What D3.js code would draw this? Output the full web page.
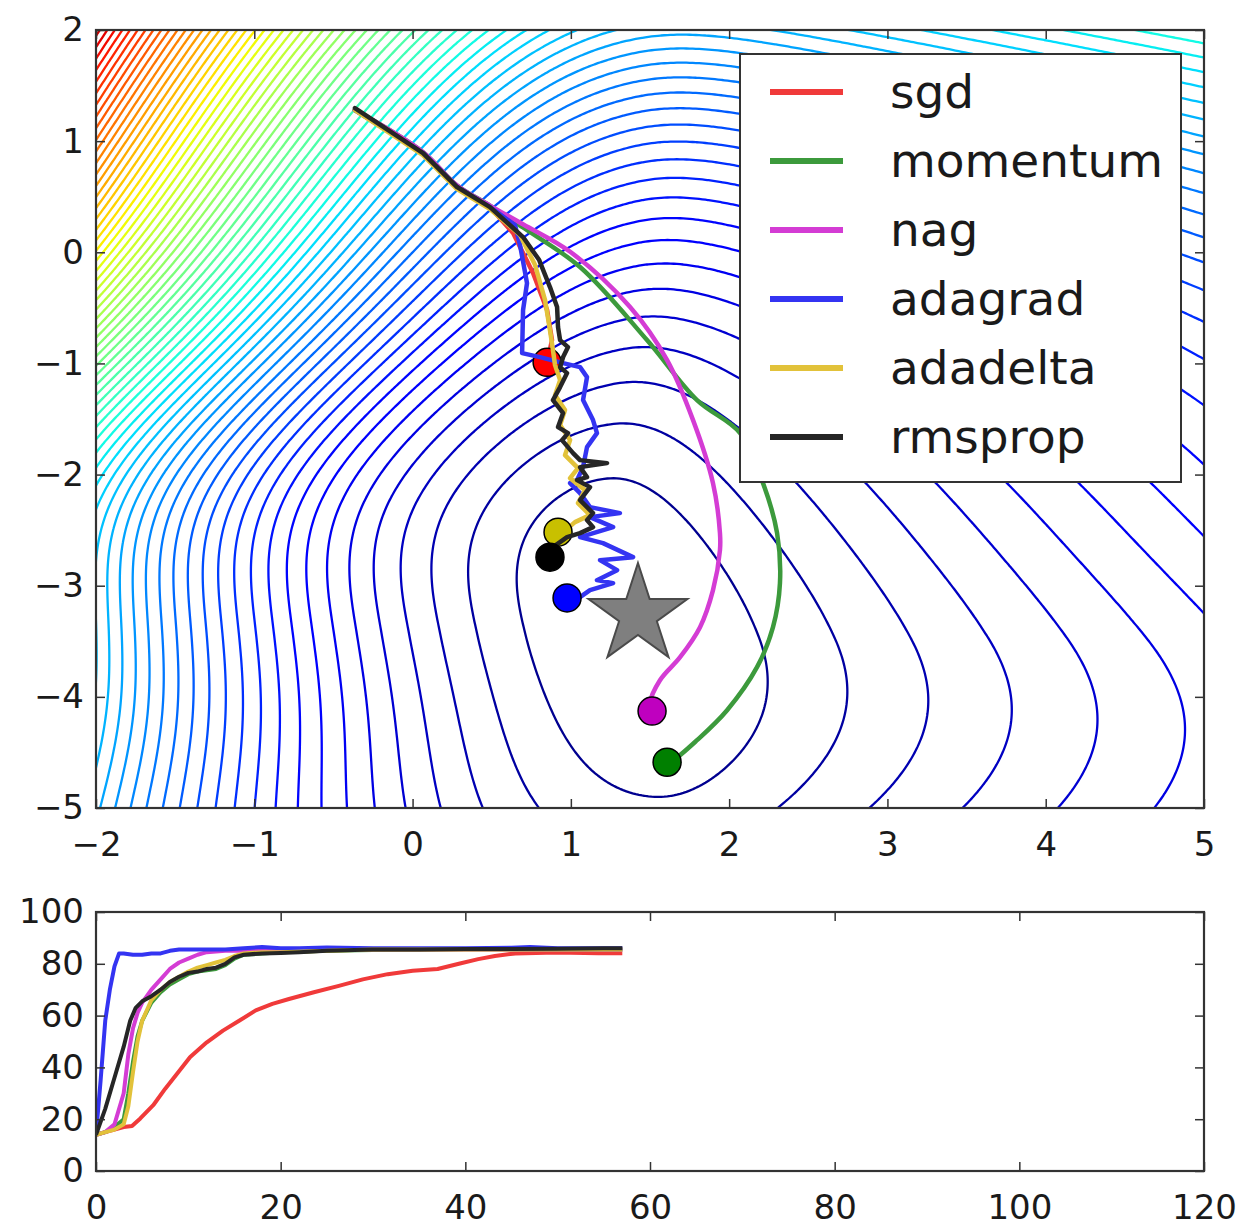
<!DOCTYPE html>
<html><head><meta charset="utf-8">
<script src="https://cdn.jsdelivr.net/npm/d3@7"></script>
<style>
body{margin:0;background:#fff}
svg{display:block}
text{font-family:"DejaVu Sans",sans-serif;fill:#1a1a1a}
</style>
</head><body>
<svg id="chart" width="1239" height="1230"></svg>
<script>
// ---------------- DATA ----------------
const methods = ["sgd","momentum","nag","adagrad","adadelta","rmsprop"];
const lineColors = ["#f03a3a","#3c9a3c","#d43cd4","#3434f2","#e2c23a","#262626"];
const dotColors  = ["#ff0000","#007f00","#bf00bf","#0000ff","#c8c000","#000000"];

// optimisation paths (parameter space)
const sgdPath = [[-0.364,1.28],[0.066,0.893],[0.281,0.587],[0.489,0.407],[0.635,0.173],[0.761,-0.187],[0.85,-0.52],[0.881,-0.79],[0.85,-0.99]];
const momentumPath = [[-0.364,1.28],[0.066,0.90],[0.281,0.60],[0.489,0.42],[0.69,0.23],[1.058,-0.133],[1.481,-0.79],[1.797,-1.33],[2.069,-1.626],[2.214,-2.077],[2.303,-2.527],[2.321,-2.977],[2.277,-3.373],[2.176,-3.733],[1.987,-4.12],[1.797,-4.39],[1.646,-4.57],[1.608,-4.588]];
const nagPath = [[-0.364,1.28],[0.066,0.90],[0.281,0.60],[0.489,0.42],[0.70,0.25],[1.0,0.0],[1.374,-0.493],[1.608,-0.97],[1.772,-1.51],[1.898,-2.077],[1.942,-2.527],[1.942,-2.68],[1.898,-3.04],[1.816,-3.373],[1.69,-3.643],[1.563,-3.85],[1.5,-4.057],[1.513,-4.128]];
const adagradPath = [[-0.364,1.28],[0.066,0.893],[0.281,0.587],[0.489,0.407],[0.647,0.245],[0.679,0.065],[0.723,-0.277],[0.698,-0.52],[0.692,-0.907],[0.805,-0.943],[0.951,-0.997],[1.058,-1.033],[1.102,-1.123],[1.077,-1.33],[1.14,-1.51],[1.165,-1.627],[1.102,-1.753],[1.077,-1.933],[1.039,-2.05],[0.995,-2.077],[1.058,-2.167],[1.121,-2.293],[1.31,-2.347],[1.121,-2.383],[1.267,-2.473],[1.058,-2.563],[1.203,-2.617],[1.393,-2.743],[1.184,-2.77],[1.292,-2.86],[1.165,-2.95],[1.267,-2.977],[1.121,-3.04],[1.058,-3.103],[0.976,-3.11]];
const adadeltaPath = [[-0.364,1.28],[0.066,0.875],[0.281,0.569],[0.489,0.389],[0.679,0.155],[0.774,-0.115],[0.837,-0.43],[0.868,-0.7],[0.887,-0.88],[0.9,-1.015],[0.932,-1.15],[0.9,-1.285],[0.963,-1.42],[0.932,-1.555],[0.995,-1.69],[0.963,-1.825],[1.045,-1.942],[0.995,-2.032],[1.09,-2.14],[1.045,-2.257],[1.121,-2.365],[1.026,-2.428],[0.982,-2.482],[0.919,-2.518]];
const rmspropPath = [[-0.364,1.298],[0.066,0.893],[0.281,0.587],[0.489,0.407],[0.698,0.137],[0.80,-0.07],[0.868,-0.313],[0.913,-0.493],[0.919,-0.673],[0.932,-0.79],[0.982,-0.853],[0.951,-0.943],[0.932,-1.033],[0.976,-1.087],[0.932,-1.213],[0.887,-1.33],[0.951,-1.447],[0.919,-1.573],[0.982,-1.627],[0.944,-1.69],[1.014,-1.807],[1.058,-1.87],[1.229,-1.897],[1.058,-1.933],[1.102,-2.023],[1.039,-2.05],[1.121,-2.113],[1.058,-2.23],[1.14,-2.347],[1.102,-2.41],[1.14,-2.473],[1.058,-2.527],[0.976,-2.563],[0.887,-2.653],[0.868,-2.743]];
const paths = [sgdPath, momentumPath, nagPath, adagradPath, adadeltaPath, rmspropPath];
const smoothPath = [false, true, true, false, false, false];

const optimum = [1.424, -3.264];

// loss surface parameters
const surfaceCenter = [1.45, -3.45];
const scaleLeft = 0.735, scaleRight = 0.62, scaleUp = 1.5, powerUp = 2.3, scaleDown = 1.45;
const rightFlatten = 1.34;
const tiltLin = 0.116;
const rampGain = 8.5, rampKnee3 = 27, rampStart = -0.5, rampSoft = 0.5;
const shearLin = 0.216, shearQuad = 0.052, shearWidth = 1.8;
const contourLevels = d3.range(1, 71);
const colorMaxLevel = 70;

// accuracy curves [iteration, accuracy]
const sgdAcc = [[0,14],[1,15],[2,16],[3,17],[3.9,17.4],[4.8,20.3],[6.2,25.4],[7.5,31.8],[8.8,37.6],[10.2,44],[12,49.7],[13.75,54.2],[15.5,58],[17.3,62],[19.1,64.5],[20.9,66.4],[23.6,69],[26.3,71.5],[28.9,74],[31.6,76],[34.3,77.3],[37,78],[39.3,80],[41.4,81.8],[43.2,83],[45.4,84],[49.9,84.4],[54.4,84.1],[57,84.1]];
const momentumAcc = [[0,14],[1,15],[2,17],[3,20],[3.5,30],[4,42],[4.5,52],[5,58],[6,65],[7,69],[8,72],[9,74],[10,76],[11,77],[12,77.5],[13,78],[14,79.5],[15,82],[16,83.5],[18,84],[20,84.5],[25,85],[30,85.3],[40,85.5],[50,85.5],[57,85.5]];
const nagAcc = [[0,14],[1,15],[2,18],[3,30],[3.5,45],[4,55],[4.5,61],[5,65],[6,70],[7,74],[8,78],[9,80.5],[10,82],[11,83.5],[12,84.5],[14,85],[16,85],[20,85.2],[25,85.5],[30,85.5],[40,85.5],[50,85.5],[57,85.5]];
const adagradAcc = [[0,14],[0.5,35],[1,58],[1.5,70],[2,79],[2.5,84],[3,84],[4,83.5],[5,83.5],[6,84],[7,84],[8,85],[9,85.5],[10,85.5],[12,85.5],[14,85.5],[16,86],[18,86.5],[20,86],[22,86],[25,86.3],[30,86],[35,86],[40,86],[45,86.2],[47,86.5],[50,86],[55,86],[57,86]];
const adadeltaAcc = [[0,14],[1,15],[2,16],[3,18],[3.5,25],[4,38],[4.5,50],[5,58],[6,66],[7,70],[8,73],[9,75],[10,77],[11,78.5],[12,79.5],[13,80.5],[14,81.5],[15,83],[16,84],[18,84.5],[20,84.5],[25,85],[30,85.5],[40,85.5],[50,85.5],[57,85.5]];
const rmspropAcc = [[0,14],[1,24],[2,36],[3,48],[3.7,58],[4.3,63],[5,65.5],[6,67.5],[7,70],[8,73],[9,75],[10,76.5],[11,77],[12,78],[13,78.5],[14,80],[15,82.5],[16,83.5],[18,84],[20,84.2],[22,84.5],[25,85],[28,85.3],[30,85.5],[35,85.5],[40,85.7],[45,85.7],[50,85.8],[55,86],[57,86]];
const accCurves = [sgdAcc, momentumAcc, nagAcc, adagradAcc, adadeltaAcc, rmspropAcc];

const topXTicks = [-2,-1,0,1,2,3,4,5];
const topYTicks = [-5,-4,-3,-2,-1,0,1,2];
const botXTicks = [0,20,40,60,80,100,120];
const botYTicks = [0,20,40,60,80,100];

// ---------------- DRAW ----------------
const svg = d3.select("#chart");
const fmt = d3.format("d");

const topBox = {l:96, r:1204, t:30, b:808};
const botBox = {l:96, r:1204, t:912, b:1171};

const xT = d3.scaleLinear().domain([-2,5]).range([topBox.l, topBox.r]);
const yT = d3.scaleLinear().domain([-5,2]).range([topBox.b, topBox.t]);
const xB = d3.scaleLinear().domain([0,120]).range([botBox.l, botBox.r]);
const yB = d3.scaleLinear().domain([0,100]).range([botBox.b, botBox.t]);

// jet colormap
const jetR = d3.scaleLinear().domain([0,0.35,0.66,0.89,1]).range([0,0,1,1,0.5]).clamp(true);
const jetG = d3.scaleLinear().domain([0,0.125,0.375,0.64,0.91,1]).range([0,0,1,1,0,0]).clamp(true);
const jetB = d3.scaleLinear().domain([0,0.11,0.34,0.65,1]).range([0.5,1,1,0,0]).clamp(true);
const jet = t => d3.rgb(255*jetR(t), 255*jetG(t), 255*jetB(t)).toString();

function surface(x, y) {
  const Y = y - surfaceCenter[1];
  const X = x - surfaceCenter[0] + (shearLin*Y + shearQuad*Y*Y) * Math.exp(-(Y/shearWidth)*(Y/shearWidth));
  const xPart = X < 0 ? X*X/(scaleLeft*scaleLeft)
                      : X*X/Math.sqrt(1 + (rightFlatten*X)*(rightFlatten*X))/(scaleRight*scaleRight);
  const m = Y < 0 ? 1 + tiltLin*Y : 1 + tiltLin*Math.tanh(Y);
  const yPart = Y > 0 ? Math.pow(Y/scaleUp, powerUp) : (Y/scaleDown)*(Y/scaleDown);
  const yp = Math.max(Y, 0);
  const g = rampGain*yp*yp*yp/(rampKnee3 + yp*yp*yp);
  const z = -(X - rampStart)/rampSoft;
  const h = rampSoft*(z > 30 ? z : Math.log1p(Math.exp(z)));
  return xPart*m + yPart + g*h;
}

// grid
const gx0 = -2.25, gy0 = 2.25, step = 0.02;
const nx = Math.round(7.5/step)+1, ny = Math.round(7.5/step)+1;
const values = new Float64Array(nx*ny);
for (let j=0;j<ny;j++) for (let i=0;i<nx;i++) values[j*nx+i] = surface(gx0+i*step, gy0-j*step);

const contours = d3.contours().size([nx, ny]).thresholds(contourLevels)(values);
const proj = d3.geoTransform({point(u,v){ this.stream.point(xT(gx0+(u-0.5)*step), yT(gy0-(v-0.5)*step)); }});
const gpath = d3.geoPath(proj);

const defs = svg.append("defs");
defs.append("clipPath").attr("id","clipTop").append("rect")
  .attr("x",topBox.l).attr("y",topBox.t).attr("width",topBox.r-topBox.l).attr("height",topBox.b-topBox.t);
defs.append("clipPath").attr("id","clipBot").append("rect")
  .attr("x",botBox.l).attr("y",botBox.t).attr("width",botBox.r-botBox.l).attr("height",botBox.b-botBox.t);

const gTop = svg.append("g").attr("clip-path","url(#clipTop)");
gTop.selectAll("path.contour").data(contours).join("path")
  .attr("class","contour")
  .attr("d", gpath)
  .attr("fill","none")
  .attr("stroke", d => jet(d.value/colorMaxLevel))
  .attr("stroke-width", 2.3);

// paths + end dots
const line = d3.line().x(d=>xT(d[0])).y(d=>yT(d[1]));
const lineSmooth = d3.line().x(d=>xT(d[0])).y(d=>yT(d[1])).curve(d3.curveCatmullRom.alpha(0.5));
paths.forEach((p,k)=>{
  gTop.append("path").attr("d", (smoothPath[k]?lineSmooth:line)(p))
    .attr("fill","none").attr("stroke",lineColors[k]).attr("stroke-width",4.5)
    .attr("stroke-linejoin","round").attr("stroke-linecap","round");
  const e = p[p.length-1];
  gTop.append("circle").attr("cx",xT(e[0])).attr("cy",yT(e[1])).attr("r",14)
    .attr("fill",dotColors[k]).attr("stroke","#000").attr("stroke-width",1.5);
});

// star
const starPts = d3.range(10).map(i=>{
  const a = -Math.PI/2 + i*Math.PI/5;
  const r = i%2===0 ? 52 : 52*0.382;
  return [xT(optimum[0]) + r*Math.cos(a), yT(optimum[1]) + r*Math.sin(a)];
});
gTop.append("polygon").attr("points", starPts.map(p=>p.join(",")).join(" "))
  .attr("fill","#7f7f7f").attr("stroke","#4a4a4a").attr("stroke-width",2).attr("stroke-linejoin","miter");

// legend
const leg = svg.append("g");
leg.append("rect").attr("x",740).attr("y",54).attr("width",441).attr("height",428)
  .attr("fill","#fff").attr("stroke","#333").attr("stroke-width",2);
methods.forEach((m,k)=>{
  const yy = 92 + k*69;
  leg.append("line").attr("x1",770).attr("x2",843).attr("y1",yy).attr("y2",yy)
    .attr("stroke",lineColors[k]).attr("stroke-width",6);
  leg.append("text").attr("x",890).attr("y",yy+16).attr("font-size",47).text(m);
});

// axes helper
function axes(box, xs, ys, xt, yt) {
  const fs = 34;
  const gx = svg.append("g").attr("transform",`translate(0,${box.b})`)
    .call(d3.axisBottom(xs).tickValues(xt).tickFormat(fmt).tickSizeInner(-9).tickSizeOuter(0).tickPadding(24));
  const gxt = svg.append("g").attr("transform",`translate(0,${box.t})`)
    .call(d3.axisTop(xs).tickValues(xt).tickFormat("").tickSizeInner(-9).tickSizeOuter(0));
  const gy = svg.append("g").attr("transform",`translate(${box.l},0)`)
    .call(d3.axisLeft(ys).tickValues(yt).tickFormat(fmt).tickSizeInner(-9).tickSizeOuter(0).tickPadding(12));
  const gyr = svg.append("g").attr("transform",`translate(${box.r},0)`)
    .call(d3.axisRight(ys).tickValues(yt).tickFormat("").tickSizeInner(-9).tickSizeOuter(0));
  [gx,gxt,gy,gyr].forEach(g=>{
    g.select(".domain").remove();
    g.selectAll(".tick line").attr("stroke","#333").attr("stroke-width",1.5);
    g.selectAll(".tick text").attr("font-size",fs).attr("font-family","DejaVu Sans, sans-serif").attr("fill","#1a1a1a");
  });
  svg.append("rect").attr("x",box.l).attr("y",box.t).attr("width",box.r-box.l).attr("height",box.b-box.t)
    .attr("fill","none").attr("stroke","#333").attr("stroke-width",2.2);
}
axes(topBox, xT, yT, topXTicks, topYTicks);

// bottom chart
const gBot = svg.append("g").attr("clip-path","url(#clipBot)");
const lineB = d3.line().x(d=>xB(d[0])).y(d=>yB(d[1]));
accCurves.forEach((c,k)=>{
  gBot.append("path").attr("d",lineB(c)).attr("fill","none").attr("stroke",lineColors[k])
    .attr("stroke-width",4).attr("stroke-linejoin","round");
});
axes(botBox, xB, yB, botXTicks, botYTicks);
</script>
</body></html>
